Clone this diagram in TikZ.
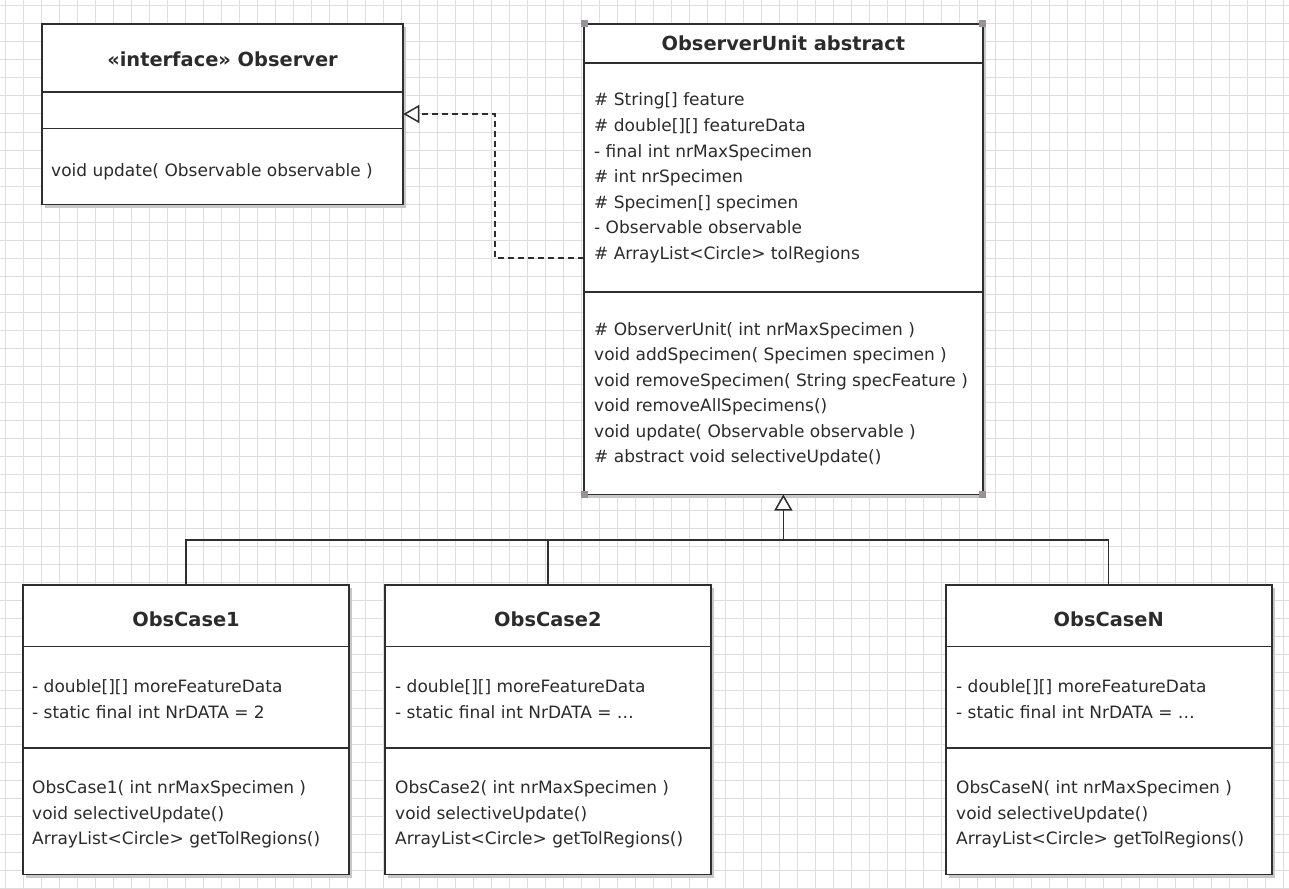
\documentclass[tikz,border=0pt]{standalone}
\usepackage{fontspec}
\setmainfont{DejaVu Sans}
\usetikzlibrary{arrows.meta,shadows}
\definecolor{ink}{HTML}{2E2E2E}
\definecolor{txt}{HTML}{2B2B2B}
\definecolor{gridc}{HTML}{DDDDDD}
\definecolor{handlec}{HTML}{9A9098}
\tikzset{
 umlbox/.style={draw=ink, line width=1.8pt, fill=white, inner sep=0pt, outer sep=0pt,
   drop shadow={shadow xshift=3pt,shadow yshift=-3pt,fill=black!22,opacity=1}},
 sepline/.style={draw=ink, line width=1.6pt},
 title/.style={font=\fontsize{19.4}{22}\selectfont\bfseries, text=txt, anchor=base, inner sep=0pt},
 member/.style={font=\fontsize{17}{20}\selectfont, text=txt, anchor=base west, inner sep=0pt},
 conn/.style={draw=ink, line width=1.5pt},
 realize/.style={conn, dash pattern=on 6pt off 4pt, -{Triangle[open,length=16pt,width=18pt,fill=white]}},
 inherit/.style={conn, -{Triangle[open,length=16pt,width=18pt,fill=white]}},
 handle/.style={fill=handlec, minimum size=7pt, inner sep=0pt},
 gridline/.style={draw=gridc, line width=1pt},
}
\begin{document}
\begin{tikzpicture}[x=1pt,y=-1pt]
\fill[white] (0,0) rectangle (1289,888);
\useasboundingbox (0,0) rectangle (1289,888);
% background grid
\foreach \i in {0,...,71} \draw[gridline] ({5.7+18*\i},0) -- ({5.7+18*\i},888);
\foreach \j in {0,...,49} \draw[gridline] (0,{6+18*\j}) -- (1289,{6+18*\j});

% ---------- Observer interface ----------
\node[umlbox, minimum width=361.6pt, minimum height=180.5pt] (obs) at (222.5,114.25) {};
\draw[sepline] (obs.north west) ++(0,68.3) -- ++(361.6,0);
\draw[sepline] (obs.north west) ++(0,104.3) -- ++(361.6,0);
\node[title] (obsT) at (222.5,67) {«interface» Observer};
\node[member] (obsM) at (51,176) {void update( Observable observable )};

% ---------- ObserverUnit ----------
\node[umlbox, minimum width=398.7pt, minimum height=470.5pt] (unit) at (783.35,259.25) {};
\draw[sepline] (unit.north west) ++(0,39.3) -- ++(398.7,0);
\draw[sepline] (unit.north west) ++(0,267.7) -- ++(398.7,0);
\node[title] (unitT) at (783.35,50.3) {ObserverUnit abstract};
\foreach [count=\k from 0] \t in {
  {\# String[] feature},
  {\# double[][] featureData},
  {- final int nrMaxSpecimen},
  {\# int nrSpecimen},
  {\# Specimen[] specimen},
  {- Observable observable},
  {\# ArrayList<Circle> tolRegions}}
  \node[member] (ua\k) at (594,{106+25.5*\k}) {\t};
\foreach [count=\k from 0] \t in {
  {\# ObserverUnit( int nrMaxSpecimen )},
  {void addSpecimen( Specimen specimen )},
  {void removeSpecimen( String specFeature )},
  {void removeAllSpecimens()},
  {void update( Observable observable )},
  {\# abstract void selectiveUpdate()}}
  \node[member] (um\k) at (594,{335.3+25.5*\k}) {\t};
\node[handle] (h1) at (unit.north west) {};
\node[handle] (h2) at (unit.north east) {};
\node[handle] (h3) at (unit.south west) {};
\node[handle] (h4) at (unit.south east) {};

% ---------- Subclasses ----------
\foreach \n/\cx/\lx/\nm/\val in {c1/186/32/ObsCase1/2, c2/547.85/395/ObsCase2/\dots, cN/1108.7/956/ObsCaseN/\dots}{
  \node[umlbox, minimum width=326pt, minimum height=289.5pt] (\n) at (\cx,729.75) {};
  \draw[sepline] (\n.north west) ++(0,61.5) -- ++(326,0);
  \draw[sepline] (\n.north west) ++(0,162.7) -- ++(326,0);
  \node[title] (\n T) at (\cx,626.3) {\nm};
  \node[member] (\n a0) at (\lx,692.7) {- double[][] moreFeatureData};
  \node[member] (\n a1) at (\lx,718.2) {- static final int NrDATA = \val};
  \node[member] (\n m0) at (\lx,793.7) {\nm( int nrMaxSpecimen )};
  \node[member] (\n m1) at (\lx,819.2) {void selectiveUpdate()};
  \node[member] (\n m2) at (\lx,844.7) {ArrayList<Circle> getTolRegions()};
}

% ---------- Connectors ----------
\coordinate (ya) at (0,258);
\coordinate (yb) at (0,114);
\coordinate (bend) at (495,258);
\draw[realize] (unit.west |- ya) -- (bend) |- (obs.east |- yb);

\coordinate (hub) at (783.35,540);
\draw[conn] (c1.north) |- (hub);
\draw[conn] (c2.north) |- (hub);
\draw[conn] (cN.north) |- (hub);
\draw[inherit] (hub) -- (unit.south);
\end{tikzpicture}
\end{document}
